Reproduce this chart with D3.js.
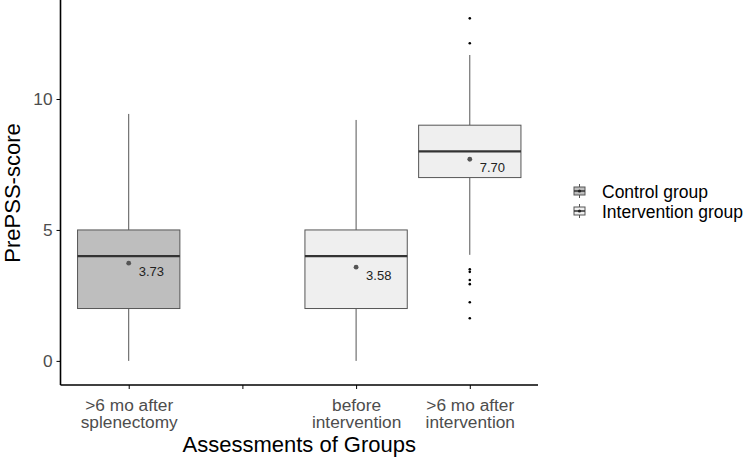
<!DOCTYPE html>
<html lang="en">
<head>
    <meta charset="UTF-8">
    <title>PrePSS-score boxplot</title>
    <script src="https://d3js.org/d3.v7.min.js"></script>
    <style>
        body { margin: 0; background: #fff; }
        text { font-family: "Liberation Sans", Arial, sans-serif; }
        .tick text { fill: #4d4d4d; font-size: 17.3px; }
        .axis path, .axis line { stroke: #000; }
    </style>
</head>
<body>
    <script>
        const categories = [">6 mo after\nsplenectomy", "", "before\nintervention", ">6 mo after\nintervention"];
        const boxCats = [0, 2, 3];
        const groups = ["Control group", "Intervention group", "Intervention group"];
        const q1 = [2, 2, 7];
        const medians = [4, 4, 8];
        const q3 = [5, 5, 9];
        const whiskLow = [0, 0, 4.05];
        const whiskHigh = [9.43, 9.2, 11.68];
        const means = [3.73, 3.58, 7.70];
        const outliers = [[], [], [13.08, 12.13, 3.5, 3.4, 3.09, 2.93, 2.24, 1.63]];
        const legendGroups = ["Control group", "Intervention group"];
        const fills = { "Control group": "#bebebe", "Intervention group": "#efefef" };

        const W = 745, H = 460;
        const pLeft = 60.5, pRight = 538, pTop = 0, pBottom = 385;

        const svg = d3.select("body").append("svg")
            .attr("width", W).attr("height", H);

        const x = d3.scalePoint()
            .domain(d3.range(categories.length))
            .range([pLeft, pRight])
            .padding(0.6);
        const step = x.step();
        const boxW = step * 0.9;

        const y = d3.scaleLinear().domain([-0.92, 13.78]).range([pBottom, pTop]);

        // boxes
        const g = svg.append("g");
        boxCats.forEach((c, i) => {
            const cx = x(c);
            g.append("line")
                .attr("x1", cx).attr("x2", cx)
                .attr("y1", y(q3[i])).attr("y2", y(whiskHigh[i]))
                .attr("stroke", "#555").attr("stroke-width", 1);
            g.append("line")
                .attr("x1", cx).attr("x2", cx)
                .attr("y1", y(q1[i])).attr("y2", y(whiskLow[i]))
                .attr("stroke", "#555").attr("stroke-width", 1);
            g.append("rect")
                .attr("x", cx - boxW / 2).attr("width", boxW)
                .attr("y", y(q3[i])).attr("height", y(q1[i]) - y(q3[i]))
                .attr("fill", fills[groups[i]])
                .attr("stroke", "#555").attr("stroke-width", 1);
            g.append("line")
                .attr("x1", cx - boxW / 2).attr("x2", cx + boxW / 2)
                .attr("y1", y(medians[i])).attr("y2", y(medians[i]))
                .attr("stroke", "#333").attr("stroke-width", 2.2);
            outliers[i].forEach(v => {
                g.append("circle")
                    .attr("cx", cx).attr("cy", y(v)).attr("r", 1.3)
                    .attr("fill", "#000");
            });
            g.append("circle")
                .attr("cx", cx).attr("cy", y(means[i])).attr("r", 2.4)
                .attr("fill", "#555");
            g.append("text")
                .attr("x", cx + 10).attr("y", y(means[i]) + 12.7)
                .attr("font-size", 13).attr("fill", "#222")
                .text(means[i].toFixed(2));
        });

        // y axis
        const yAxis = svg.append("g").attr("class", "axis")
            .attr("transform", `translate(${pLeft},0)`)
            .call(d3.axisLeft(y).tickValues([0, 5, 10]).tickSize(4).tickPadding(4));
        yAxis.select(".domain").attr("d", `M0,${pTop}V${pBottom}`).attr("stroke-width", 1.6);
        yAxis.selectAll(".tick line").attr("stroke", "#333");

        // x axis
        const xAxis = svg.append("g").attr("class", "axis")
            .attr("transform", `translate(0,${pBottom})`)
            .call(d3.axisBottom(x).tickSize(4).tickFormat(""));
        xAxis.select(".domain").attr("d", `M${pLeft},0H${pRight}`).attr("stroke-width", 1.6);
        xAxis.selectAll(".tick line").attr("stroke", "#333");
        xAxis.selectAll(".tick").each(function (d) {
            const lines = categories[d].split("\n").filter(s => s);
            const t = d3.select(this).append("text")
                .attr("text-anchor", "middle").attr("y", 26);
            lines.forEach((s, k) => {
                t.append("tspan").attr("x", 0).attr("dy", k === 0 ? 0 : 17.4).text(s);
            });
        });

        // axis titles
        svg.append("text")
            .attr("x", (pLeft + pRight) / 2).attr("y", 452)
            .attr("text-anchor", "middle").attr("font-size", 22).attr("fill", "#000")
            .text("Assessments of Groups");
        svg.append("text")
            .attr("transform", `translate(19.5,193) rotate(-90)`)
            .attr("text-anchor", "middle").attr("font-size", 22).attr("fill", "#000")
            .text("PrePSS-score");

        // legend
        const leg = svg.append("g").attr("transform", "translate(572,181)");
        legendGroups.forEach((name, i) => {
            const r = leg.append("g").attr("transform", `translate(0,${i * 20})`);
            r.append("line").attr("x1", 7.5).attr("x2", 7.5).attr("y1", 3).attr("y2", 17)
                .attr("stroke", "#555");
            r.append("rect").attr("x", 2).attr("y", 6).attr("width", 11).attr("height", 8)
                .attr("fill", fills[name]).attr("stroke", "#555");
            r.append("line").attr("x1", 2).attr("x2", 13).attr("y1", 10).attr("y2", 10)
                .attr("stroke", "#333").attr("stroke-width", 1.5);
            r.append("circle").attr("cx", 7.5).attr("cy", 10).attr("r", 1.6).attr("fill", "#222");
            r.append("text").attr("x", 30).attr("y", 17)
                .attr("font-size", 17.5).attr("fill", "#000").text(name);
        });
    </script>
</body>
</html>
